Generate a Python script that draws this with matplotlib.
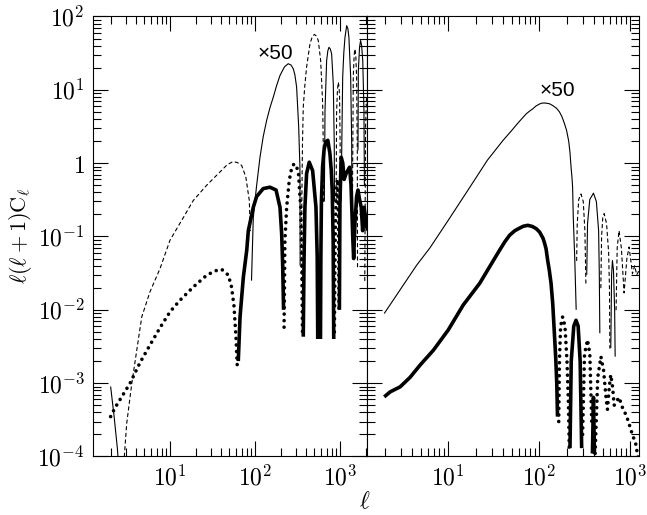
import numpy as np
import matplotlib
matplotlib.use("Agg")
import matplotlib.pyplot as plt
from matplotlib.ticker import FuncFormatter, LogLocator, NullFormatter

plt.rcParams['mathtext.fontset'] = 'cm'

# left panel, thin curve (already multiplied by 50); negative values drawn dashed
left_x50_l = [2.0, 2.2, 2.4, 2.55,
              2.9, 3.09, 3.55, 4.06, 4.65, 5.8, 7.63, 10, 14.3, 18.8, 27, 38.8, 47, 55, 62, 69.7, 78, 85.7, 88,
              91, 95.5, 104, 114.5, 125, 137, 150, 164, 180, 197, 222, 246, 265, 282, 295, 309, 327, 338, 340,
              352, 356, 362, 370, 385, 405, 444, 470, 499, 530, 556, 593, 626, 636, 640,
              655, 667, 697, 720, 743, 770, 798, 835, 857, 862,
              900, 914, 935, 955, 975, 990, 1005, 1010,
              1030, 1077, 1110, 1146, 1200, 1240, 1275, 1337, 1375, 1385,
              1400, 1435, 1470, 1500, 1535, 1570, 1600, 1610,
              1630, 1645, 1700, 1750, 1800, 1855, 1916, 1940,
              1960, 2000, 2050, 2100]
left_x50_v = [9e-4, 3.5e-4, 1.3e-4, 5e-5,
              -1e-4, -2.8e-4, -9.9e-4, -2.8e-3, -8e-3, -0.0175, -0.0365, -0.089, -0.18, -0.31, -0.5, -0.76,
              -0.95, -1.05, -1.02, -0.93, -0.65, -0.31, -0.12,
              0.025, 0.18, 0.47, 1.2, 2.3, 3.8, 5.7, 7.9, 11.5, 15.7, 20.5, 22.7, 21.8, 19.4, 16, 10.9, 3.1, 0.88, 0.04,
              -0.025, -0.3, -1.8, -5.8, -11, -20.4, -42.5, -52, -57, -54, -47, -25, -6.5, -1.8, -0.3,
              0.3, 5.2, 25, 34, 38, 36, 31, 12, 1.8, 0.3,
              -0.3, -5.2, -10, -12.7, -11, -8, -1.8, -0.013,
              0.3, 15, 32, 52, 75, 68, 52, 15, 1.8, 0.1,
              -0.2, -15, -30, -36, -30, -15, -1.5, -0.035,
              1.5, 18, 38, 47, 40, 25, 5.2, 0.5,
              -0.025, -3, -7.5, -8]

# left panel, thick curve; negative values drawn dotted
left_thick_l = [2.0, 2.25, 2.7, 3.39, 4.43, 5.8, 7.63, 10, 13.1, 18.8, 27, 34, 40.5, 48.6, 53, 56.6, 59.7, 62,
                63.6, 66.7, 73, 80, 83.5, 95.5, 104.5, 125, 150, 177, 197, 206, 212, 217,
                220, 225, 236, 253, 270, 288, 305, 324, 345, 355, 362,
                370, 378, 387, 405, 435, 477, 522, 540, 548,
                568,
                590, 596, 605, 625, 649, 680, 720, 762, 790, 811, 832, 845,
                860, 880, 910, 940, 960, 975,
                985, 1000, 1035, 1080, 1120, 1180, 1240, 1300, 1350, 1420, 1450, 1500, 1570, 1630,
                1700, 1780, 1850, 1920, 1980, 2050, 2100]
left_thick_v = [-3.5e-4, -4.6e-4, -6.5e-4, -1.0e-3, -1.9e-3, -3.3e-3, -5.7e-3, -9.4e-3, -0.0135, -0.0205,
                -0.0296, -0.034, -0.0357, -0.0297, -0.0205, -0.0113, -4.3e-3, -1.6e-3,
                2e-3, 8e-3, 0.028, 0.065, 0.12, 0.25, 0.35, 0.45, 0.47, 0.43, 0.25, 0.11, 0.04, 0.01,
                -5.8e-3, -0.088, -0.25, -0.58, -0.85, -0.98, -0.92, -0.76, -0.25, -0.053, -5e-3,
                4.3e-3, 0.05, 0.25, 0.72, 1.03, 0.79, 0.25, 0.053, 4e-3,
                -1e-6,
                4e-3, 0.05, 0.3, 0.9, 1.5, 1.95, 2.05, 1.35, 0.8, 0.43, 0.088, 4e-3,
                -5e-3, -0.1, -0.5, -0.6, -0.2, -0.01,
                0.01, 0.3, 1.2, 1.0, 0.6, 0.72, 0.8, 0.88, 0.5, 0.088, 0.05, 0.15, 0.35, 0.43,
                0.32, 0.25, 0.12, 0.25, 0.2, 0.15, 0.12]

# right panel, thin curve (x50)
right_x50_l = [1.98, 3, 4.5, 6.3, 10, 17.3, 27, 40, 50, 57, 64, 72, 78, 85, 92, 100.7, 108, 117, 130, 141, 155,
               167, 178, 189, 200, 211, 218, 224, 229, 233, 237, 246, 255,
               258, 262, 272, 288, 305, 318, 326,
               333, 340, 360, 395, 425, 450, 458, 464,
               476, 485, 500, 518, 550, 580, 592, 598,
               612, 625, 638, 655, 675, 684,
               700, 720, 755, 800, 857, 920, 973, 1010, 1060, 1120, 1180, 1260]
right_x50_v = [8.9e-3, 0.0192, 0.0406, 0.07, 0.166, 0.47, 1.1, 2.04, 2.8, 3.4, 4.0, 4.7, 5.1, 5.5, 6.0, 6.4,
               6.6, 6.6, 6.45, 6.1, 5.6, 5.0, 4.3, 3.5, 2.8, 2.0, 1.4, 0.88, 0.65, 0.47, 0.18, 0.05, 0.01,
               -0.047, -0.15, -0.32, -0.38, -0.3, -0.12, -0.023,
               0.03, 0.15, 0.32, 0.39, 0.3, 0.12, 0.03, 4.8e-3,
               -0.02, -0.1, -0.18, -0.205, -0.15, -0.06, -0.02, -3e-3,
               3e-3, 0.03, 0.047, 0.035, 0.01, 2.3e-3,
               -0.01, -0.07, -0.12, -0.07, -0.017, -0.05, -0.072, -0.05, -0.031, -0.04, -0.03, -0.035]

# right panel, thick curve
right_thick_l = [1.98, 2.3, 2.96, 3.81, 4.9, 6.85, 10, 14.6, 22.2, 29, 36.7, 42, 47.3, 54, 60.8, 67, 75, 84, 92.7,
                 101, 110, 114, 119, 124, 129, 135, 141, 147, 152, 156, 159,
                 164, 167, 172, 181, 192, 202, 210, 214,
                 218, 225, 240, 254, 268, 282, 293,
                 300, 315, 340, 360, 378,
                 385, 395, 405,
                 412, 440, 477, 510, 545, 563, 590, 612, 640, 667, 700, 755, 830, 910, 1000, 1057, 1150, 1230]
right_thick_v = [6.5e-4, 7.6e-4, 8.9e-4, 1.2e-3, 1.76e-3, 2.8e-3, 5.3e-3, 0.0116, 0.023, 0.04, 0.065, 0.085,
                 0.104, 0.12, 0.13, 0.138, 0.142, 0.137, 0.128, 0.115, 0.095, 0.083, 0.068, 0.047, 0.035,
                 0.023, 0.012, 4.7e-3, 2.2e-3, 1e-3, 3.5e-4,
                 -3e-4, -2e-3, -6e-3, -8e-3, -6e-3, -2e-3, -5e-4, -1.3e-4,
                 1.3e-4, 2e-3, 6e-3, 7.2e-3, 6e-3, 2e-3, 1.3e-4,
                 -2e-4, -2.5e-3, -3.9e-3, -2.5e-3, -3e-4,
                 1.1e-4, 6.4e-4, 1.1e-4,
                 -1.1e-4, -1.2e-3, -2.3e-3, -1.5e-3, -6e-4, -4.4e-4, -9e-4, -1.3e-3, -9e-4, -5e-4, -5.5e-4,
                 -6.4e-4, -4.5e-4, -3.6e-4, -2.5e-4, -2e-4, -1.5e-4, -9e-5]

y_range = (1e-4, 1e2)
left_xlim = (1.24, 2080)
right_xlim = (1.28, 1260)


def draw_curve(ax, l, v, lw, neg_style):
    # positive parts solid, negative parts (absolute value) in neg_style
    l = np.asarray(l, dtype=float)
    v = np.asarray(v, dtype=float)
    sign = np.sign(v)
    start = 0
    for i in range(1, len(v) + 1):
        if i == len(v) or sign[i] != sign[start]:
            seg = slice(start, i)
            if sign[start] > 0:
                ax.plot(l[seg], v[seg], color='k', lw=lw, solid_capstyle='butt')
            else:
                ax.plot(l[seg], -v[seg], color='k', lw=lw, linestyle=neg_style,
                        dash_capstyle='round')
            start = i


def log_label(val, pos):
    e = int(round(np.log10(val)))
    if e == 0:
        return r'$1$'
    return r'$10^{%d}$' % e


def style_axes(ax, xlim, ylabels):
    ax.set_xscale('log')
    ax.set_yscale('log')
    ax.set_xlim(*xlim)
    ax.set_ylim(*y_range)
    ax.xaxis.set_major_locator(LogLocator(base=10))
    ax.yaxis.set_major_locator(LogLocator(base=10))
    ax.xaxis.set_minor_locator(LogLocator(base=10, subs=np.arange(2, 10)))
    ax.yaxis.set_minor_locator(LogLocator(base=10, subs=np.arange(2, 10)))
    ax.xaxis.set_major_formatter(FuncFormatter(log_label))
    ax.xaxis.set_minor_formatter(NullFormatter())
    ax.yaxis.set_minor_formatter(NullFormatter())
    if ylabels:
        ax.yaxis.set_major_formatter(FuncFormatter(log_label))
    else:
        ax.yaxis.set_major_formatter(NullFormatter())
    ax.tick_params(which='both', direction='in', top=True, right=True, width=0.8, labelsize=17)
    ax.tick_params(which='major', length=10.8, pad=6)
    ax.tick_params(which='minor', length=5.5)
    for s in ax.spines.values():
        s.set_linewidth(0.8)


fig = plt.figure(figsize=(6.47, 5.15), dpi=100)
axL = fig.add_axes([0.1437, 0.1136, 0.4235, 0.8544])
axR = fig.add_axes([0.5672, 0.1136, 0.4209, 0.8544])

thin_dash = (0, (3, 3))
thick_dot = (0, (0.01, 1.8))

draw_curve(axL, left_x50_l, left_x50_v, 0.8, thin_dash)
draw_curve(axL, left_thick_l, left_thick_v, 2.6, thick_dot)
draw_curve(axR, right_x50_l, right_x50_v, 0.8, thin_dash)
draw_curve(axR, right_thick_l, right_thick_v, 2.6, thick_dot)

style_axes(axL, left_xlim, True)
style_axes(axR, right_xlim, False)

axL.text(172, 31, '×50', fontsize=15, family='Liberation Sans', ha='center', va='center')
axR.text(158, 9.8, '×50', fontsize=15, family='Liberation Sans', ha='center', va='center')

fig.text(0.031, 0.542, r'$\ell(\ell+1)\mathrm{C}_\ell$', rotation=90, fontsize=16,
         ha='center', va='center')
fig.text(0.564, 0.014, r'$\ell$', fontsize=17, ha='center', va='baseline')

fig.savefig('out.png', dpi=100)
